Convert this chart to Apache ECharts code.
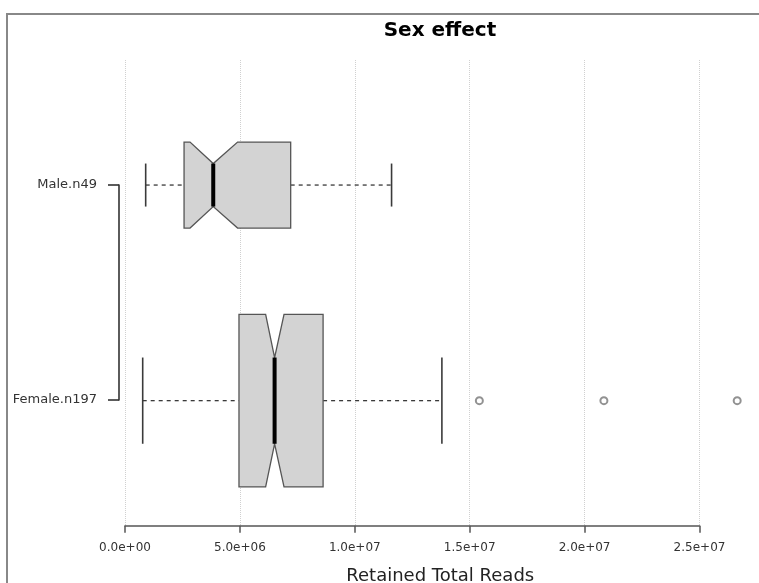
<!DOCTYPE html>
<html>
<head>
<meta charset="utf-8">
<script src="https://cdn.jsdelivr.net/npm/echarts@6/dist/echarts.min.js"></script>
<style>
  html, body { margin: 0; padding: 0; background: #fff; }
  #chart { width: 759px; height: 583px; }
</style>
</head>
<body>
<div id="chart"></div>
<script>
// Groups, bottom to top, with their sample sizes
const groups = ['Female', 'Male'];
const counts = [197, 49];

// Five-number summaries and notch bounds (Retained Total Reads)
const whiskerLow  = [0.77e6, 0.90e6];
const lowerHinge  = [4.96e6, 2.57e6];
const notchLow    = [6.12e6, 2.83e6];
const medians     = [6.51e6, 3.84e6];
const notchHigh   = [6.92e6, 4.90e6];
const upperHinge  = [8.62e6, 7.21e6];
const whiskerHigh = [13.79e6, 11.6e6];

// Outlying points: [group index, value]
const outlierGroup = [0, 0, 0];
const outlierValue = [15.42e6, 20.84e6, 26.64e6];

// X-axis ticks
const xTicks = [0, 5e6, 10e6, 15e6, 20e6, 25e6];

const FONT = 'DejaVu Sans';
const maxN = Math.max(...counts);

// Box half-widths proportional to sqrt(n), as in a varwidth boxplot
const boxData = groups.map((g, i) => [
  i + 1, whiskerLow[i], lowerHinge[i], notchLow[i], medians[i],
  notchHigh[i], upperHinge[i], whiskerHigh[i],
  0.4 * Math.sqrt(counts[i] / maxN)
]);
const outlierData = outlierValue.map((v, i) => [v, outlierGroup[i] + 1]);
const yLabels = groups.map((g, i) => g + '.n' + counts[i]);

function sci(v) {
  const s = Number(v).toExponential(1);
  const parts = s.split('e');
  const sign = parts[1][0];
  const digits = parts[1].slice(1).padStart(2, '0');
  return parts[0] + 'e' + sign + digits;
}

function renderBox(params, api) {
  const y = api.value(0);
  const wlo = api.value(1), q1 = api.value(2), nlo = api.value(3);
  const med = api.value(4), nhi = api.value(5), q3 = api.value(6);
  const whi = api.value(7), h = api.value(8);
  const P = (x, yy) => api.coord([x, yy]);
  const dashed = { stroke: '#3a3a3a', lineWidth: 1.3, lineDash: [4, 4] };
  const solid = { stroke: '#3a3a3a', lineWidth: 1.6 };
  const line = (a, b, style) => ({
    type: 'line',
    shape: { x1: a[0], y1: a[1], x2: b[0], y2: b[1] },
    style: style
  });
  const poly = [
    P(q1, y + h), P(nlo, y + h), P(med, y + h / 2), P(nhi, y + h), P(q3, y + h),
    P(q3, y - h), P(nhi, y - h), P(med, y - h / 2), P(nlo, y - h), P(q1, y - h)
  ];
  return {
    type: 'group',
    children: [
      line(P(wlo, y), P(q1, y), dashed),
      line(P(q3, y), P(whi, y), dashed),
      line(P(wlo, y - h / 2), P(wlo, y + h / 2), solid),
      line(P(whi, y - h / 2), P(whi, y + h / 2), solid),
      {
        type: 'polygon',
        shape: { points: poly },
        style: { fill: '#d3d3d3', stroke: '#555', lineWidth: 1.3 }
      },
      line(P(med, y - h / 2), P(med, y + h / 2), { stroke: '#000', lineWidth: 4 })
    ]
  };
}

const chart = echarts.init(document.getElementById('chart'), null, { renderer: 'canvas' });

chart.setOption({
  backgroundColor: '#fff',
  animation: false,
  title: {
    text: 'Sex effect',
    left: 440,
    textAlign: 'center',
    top: 21,
    padding: 0,
    textStyle: { fontFamily: FONT, fontSize: 20, fontWeight: 'bold', color: '#000' }
  },
  graphic: [{
    type: 'rect',
    z: -10,
    silent: true,
    shape: { x: 7, y: 14, width: 800, height: 700 },
    style: { fill: 'none', stroke: '#888', lineWidth: 2 }
  }],
  grid: [
    { left: 125, width: 574.5, top: 60, height: 465.7, outerBoundsMode: 'none', containLabel: false },
    { left: 119, width: 1, top: 185, height: 215, outerBoundsMode: 'none', containLabel: false }
  ],
  xAxis: [
    {
      gridIndex: 0,
      type: 'value',
      min: xTicks[0],
      max: xTicks[xTicks.length - 1],
      interval: xTicks[1] - xTicks[0],
      axisLine: { show: true, lineStyle: { color: '#555', width: 1.5 } },
      axisTick: { show: true, length: 7, lineStyle: { color: '#555', width: 1.5 } },
      axisLabel: {
        margin: 16, formatter: sci,
        fontFamily: FONT, fontSize: 12, color: '#333'
      },
      splitLine: { show: true, lineStyle: { color: '#d0d0d0', type: 'dotted', width: 1 } },
      name: 'Retained Total Reads',
      nameLocation: 'middle',
      nameGap: 42,
      nameTextStyle: { fontFamily: FONT, fontSize: 18, color: '#222', padding: [0, 0, 0, 56] }
    },
    { gridIndex: 1, type: 'value', min: 0, max: 1, show: false }
  ],
  yAxis: [
    { gridIndex: 0, type: 'value', min: 0.42, max: 2.58, show: false },
    {
      gridIndex: 1,
      type: 'category',
      data: yLabels,
      boundaryGap: false,
      axisLine: { show: true, lineStyle: { color: '#333', width: 1.6 } },
      axisTick: { show: true, length: 11, alignWithLabel: true, lineStyle: { color: '#333', width: 1.6 } },
      axisLabel: { margin: 22, fontFamily: FONT, fontSize: 13, color: '#333' },
      splitLine: { show: false }
    }
  ],
  series: [
    {
      type: 'custom',
      xAxisIndex: 0,
      yAxisIndex: 0,
      clip: false,
      renderItem: renderBox,
      encode: { x: [1, 2, 3, 4, 5, 6, 7], y: 0 },
      data: boxData
    },
    {
      type: 'scatter',
      xAxisIndex: 0,
      yAxisIndex: 0,
      clip: false,
      symbol: 'emptyCircle',
      symbolSize: 7,
      itemStyle: { color: '#777', borderColor: '#777', borderWidth: 1.5 },
      data: outlierData
    }
  ]
});
</script>
</body>
</html>
